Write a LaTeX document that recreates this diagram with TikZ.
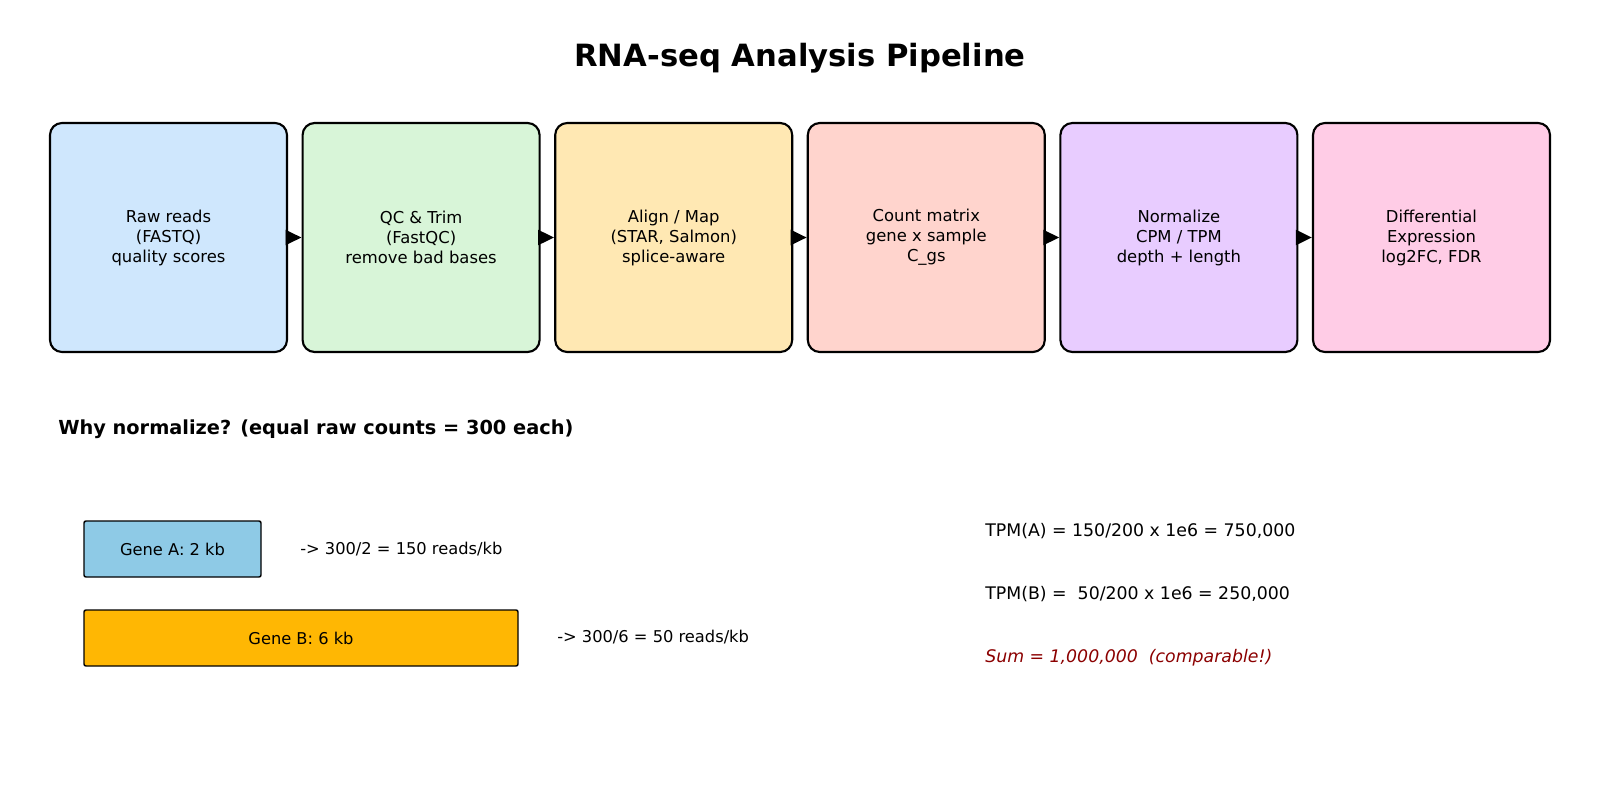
\documentclass[tikz,border=0pt]{standalone}
\usepackage{fontspec}
\setmainfont{DejaVu Sans}
\usepackage{tikz}
\usetikzlibrary{arrows.meta, positioning}
\definecolor{rawblue}{HTML}{CFE7FD}
\definecolor{qcgreen}{HTML}{D8F5D8}
\definecolor{alignyellow}{HTML}{FFE8B3}
\definecolor{countred}{HTML}{FFD4CD}
\definecolor{normpurple}{HTML}{E8CCFF}
\definecolor{diffpink}{HTML}{FFCCE6}
\definecolor{geneablue}{HTML}{8ECAE6}
\definecolor{genebgold}{HTML}{FFB703}
\definecolor{sumred}{HTML}{8B0000}

\begin{document}
\begin{tikzpicture}[
  x=0.75pt, y=-0.75pt,
  stagebox/.style={draw=black, line width=1.6pt, rounded corners=9pt, minimum width=177.75pt, minimum height=171.75pt, align=center, inner sep=2pt, font=\fontsize{12.3}{15}\selectfont},
  genebar/.style={draw=black, line width=1.1pt, rounded corners=1.5pt, minimum height=42pt, inner sep=0pt, font=\fontsize{12.2}{15}\selectfont},
  note/.style={anchor=west, inner sep=0pt, font=\fontsize{12.2}{15}\selectfont},
  tpmnote/.style={anchor=west, inner sep=0pt, font=\fontsize{13}{16}\selectfont},
  flow/.style={line width=2.2pt, shorten <=-5pt, -{Triangle[length=12pt, width=11pt]}}
]
  \useasboundingbox (0,0) rectangle (1600,793);

  % title
  \node[font=\fontsize{23}{28}\selectfont\bfseries] (title) at (800, 58) {RNA-seq Analysis Pipeline};

  % pipeline stages
  \node[stagebox, fill=rawblue] (raw) at (168.5, 237.5) {Raw reads\\(FASTQ)\\quality scores};
  \node[stagebox, fill=qcgreen] (qc) at (421.1, 237.5) {QC \& Trim\\(FastQC)\\remove bad bases};
  \node[stagebox, fill=alignyellow] (align) at (673.7, 237.5) {Align / Map\\(STAR, Salmon)\\splice-aware};
  \node[stagebox, fill=countred] (count) at (926.3, 237.5) {Count matrix\\gene x sample\\C\_gs};
  \node[stagebox, fill=normpurple] (norm) at (1178.9, 237.5) {Normalize\\CPM / TPM\\depth + length};
  \node[stagebox, fill=diffpink] (diff) at (1431.5, 237.5) {Differential\\Expression\\log2FC, FDR};

  \draw[flow] (raw.east) -- (qc.west);
  \draw[flow] (qc.east) -- (align.west);
  \draw[flow] (align.east) -- (count.west);
  \draw[flow] (count.east) -- (norm.west);
  \draw[flow] (norm.east) -- (diff.west);

  % normalization example
  \node[anchor=west, inner sep=0pt, font=\fontsize{14.5}{18}\selectfont\bfseries] (why) at (58, 429) {Why normalize? (equal raw counts = 300 each)};

  \node[genebar, fill=geneablue, minimum width=132.75pt] (genea) at (172.5, 549) {Gene A: 2 kb};
  \node[genebar, fill=genebgold, minimum width=325.5pt] (geneb) at (301, 638) {Gene B: 6 kb};
  \node[note] (ratea) at (300, 549) {-> 300/2 = 150 reads/kb};
  \node[note] (rateb) at (557, 637) {-> 300/6 = 50 reads/kb};

  \node[tpmnote] (tpma) at (985, 531) {TPM(A) = 150/200 x 1e6 = 750,000};
  \node[tpmnote] (tpmb) at (985, 594) {TPM(B) =\ \ 50/200 x 1e6 = 250,000};
  \node[tpmnote, text=sumred, font=\fontsize{13}{16}\selectfont\itshape] (tpmsum) at (985, 658) {Sum = 1,000,000\ \ (comparable!)};
\end{tikzpicture}
\end{document}
